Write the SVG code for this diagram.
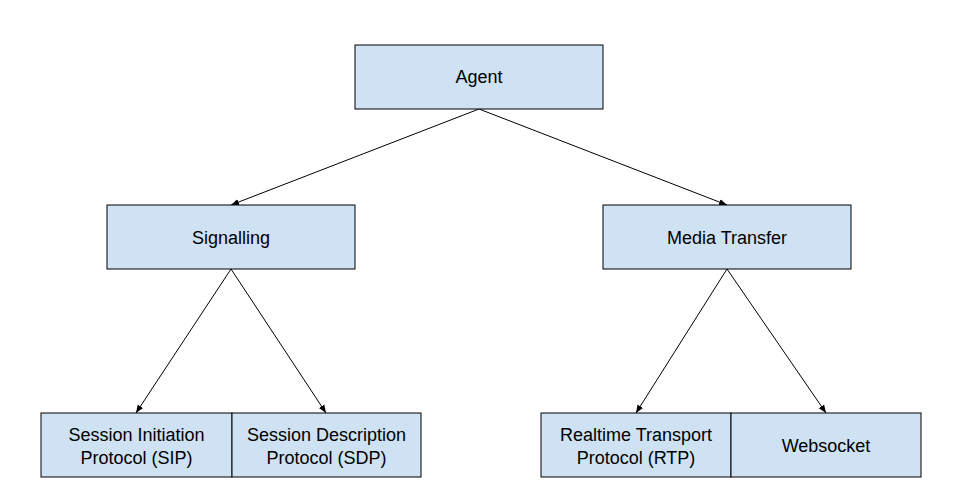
<svg xmlns="http://www.w3.org/2000/svg" width="959" height="502" viewBox="0 0 959 502">
<style>
.box{fill:#cfe2f3;stroke:#000;stroke-width:1}
.t{font-family:"Liberation Sans",Arial,sans-serif;font-size:18px;fill:#000;text-anchor:middle;dominant-baseline:central}
.c{stroke:#000;stroke-width:1;fill:none;marker-end:url(#ah)}
</style>
<defs>
<marker id="ah" viewBox="0 0 10 10" refX="10" refY="5" markerWidth="8" markerHeight="8" markerUnits="userSpaceOnUse" orient="auto">
<path d="M0,1 L10,5 L0,9 Z" fill="#000"/>
</marker>
</defs>
<rect width="959" height="502" fill="#fff"/>
<g id="connectors">
<line class="c" x1="479" y1="109" x2="231" y2="205"/>
<line class="c" x1="479" y1="109" x2="727" y2="205"/>
<line class="c" x1="231" y1="269" x2="136" y2="413"/>
<line class="c" x1="231" y1="269" x2="326" y2="413"/>
<line class="c" x1="727" y1="269" x2="636" y2="413"/>
<line class="c" x1="727" y1="269" x2="826" y2="413"/>
</g>
<g id="agent"><rect class="box" x="355" y="45" width="248" height="64"/><text class="t" x="479" y="77">Agent</text></g>
<g id="signalling"><rect class="box" x="107" y="205" width="248" height="64"/><text class="t" x="231" y="238">Signalling</text></g>
<g id="media"><rect class="box" x="603" y="205" width="248" height="64"/><text class="t" x="727" y="238">Media Transfer</text></g>
<g id="sip"><rect class="box" x="41" y="413" width="191" height="64"/><text class="t" x="136.5" y="435">Session Initiation</text><text class="t" x="136.5" y="458">Protocol (SIP)</text></g>
<g id="sdp"><rect class="box" x="232" y="413" width="189" height="64"/><text class="t" x="326.5" y="435">Session Description</text><text class="t" x="326.5" y="458">Protocol (SDP)</text></g>
<g id="rtp"><rect class="box" x="541" y="413" width="190" height="64"/><text class="t" x="636" y="435">Realtime Transport</text><text class="t" x="636" y="458">Protocol (RTP)</text></g>
<g id="ws"><rect class="box" x="731" y="413" width="190" height="64"/><text class="t" x="826" y="446">Websocket</text></g>
</svg>
